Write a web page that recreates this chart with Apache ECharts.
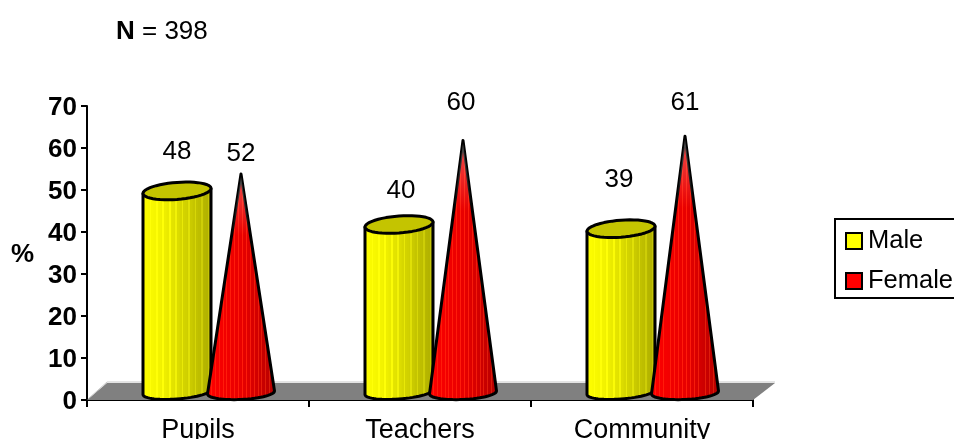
<!DOCTYPE html>
<html>
<head>
<meta charset="utf-8">
<style>html,body{margin:0;padding:0;background:#fff;overflow:hidden}#c{width:954px;height:439px}</style>
<script src="https://cdn.jsdelivr.net/npm/echarts@6/dist/echarts.min.js"></script>
</head>
<body>
<div id="c"></div>
<script>
const categories = ['Pupils', 'Teachers', 'Community'];
const yTicks = [0, 10, 20, 30, 40, 50, 60, 70];
const maleValues = [48, 40, 39];
const femaleValues = [52, 60, 61];
const sampleSize = 398;

// Hand-placed value labels: distance above the mark's value, and sideways nudge
const maleLabelGap = [47, 41, 56];
const femaleLabelGap = [28, 45, 41];
const maleLabelNudge = [0, 2, -2];
const femaleLabelNudge = [0, -2, 0];

const FONT = '"Liberation Sans", Arial, sans-serif';
const DEPTH_Y = -7.5;   // front-to-back shift of the marks on the floor

function lerp(a, b, t) { return a + (b - a) * t; }
function rgb(c) { return 'rgb(' + c.map(Math.round).join(',') + ')'; }

// Horizontal shading with fine vertical facets, as in faceted 3D solids
function facetGradient(stops, count, lift) {
  const colorStops = [];
  for (let i = 0; i < count; i++) {
    const t = i / count;
    let k = 0;
    while (k < stops.length - 2 && t > stops[k + 1][0]) k++;
    const f = (t - stops[k][0]) / (stops[k + 1][0] - stops[k][0]);
    const col = [0, 1, 2].map(j => lerp(stops[k][1][j], stops[k + 1][1][j], f));
    const facet = i % 4 === 1 ? lift : 0;
    const shown = rgb(col.map((v, j) => Math.min(255, v + facet * (j === 2 ? 0.35 : 1))));
    colorStops.push({ offset: t, color: shown }, { offset: (i + 1) / count, color: shown });
  }
  return { type: 'linear', x: 0, y: 0, x2: 1, y2: 0, colorStops };
}

// Points on a slightly sheared ellipse between two parameter angles
function arc(cx, cy, rx, ry, shear, from, to, steps) {
  const pts = [];
  for (let i = 0; i <= steps; i++) {
    const a = lerp(from, to, i / steps);
    pts.push([cx + rx * Math.cos(a), cy + ry * Math.sin(a) + shear * Math.cos(a)]);
  }
  return pts;
}

const outline = { stroke: '#000', lineWidth: 3, lineJoin: 'round' };
const maleFill = facetGradient([[0, [255, 255, 0]], [0.3, [240, 240, 0]], [0.65, [205, 205, 0]], [1, [170, 170, 0]]], 44, 20);
const femaleFill = facetGradient([[0, [255, 0, 0]], [0.5, [232, 0, 0]], [1, [180, 0, 0]]], 72, 28);

function valueLabel(x, y, text) {
  return { type: 'text', style: { x, y, text: String(text), fill: '#000', font: '26px ' + FONT, align: 'center', verticalAlign: 'middle' } };
}

function renderFloor(params) {
  const g = params.coordSys;
  const x0 = g.x, x1 = g.x + g.width, y0 = g.y + g.height;
  return {
    type: 'group',
    children: [
      { type: 'polygon', shape: { points: [[x0, y0], [x0 + 20, y0 - 17], [x1 + 22, y0 - 17], [x1, y0]] }, style: { fill: '#808080' } },
      { type: 'polyline', shape: { points: [[x0 + 1, y0 - 1], [x0 + 20, y0 - 18], [x1 + 22, y0 - 18]] }, style: { fill: 'none', stroke: '#c8c8c8', lineWidth: 1 } }
    ]
  };
}

function renderCylinder(params, api) {
  const i = api.value(0);
  const band = api.size([1, 0])[0];
  const top = api.coord([i, api.value(1)]);
  const base = api.coord([i, 0]);
  const cx = top[0] - band * 21 / 222;
  const rx = band * 34 / 222;
  const ry = 8.5, shear = -2.5;
  const yTop = top[1] + DEPTH_Y, yBase = base[1] + DEPTH_Y - 0.5;
  const body = [[cx - rx, yTop - shear]]
    .concat(arc(cx, yBase, rx, ry - 1.5, shear, Math.PI, 0, 30))
    .concat([[cx + rx, yTop + shear]]);
  return {
    type: 'group',
    children: [
      { type: 'polygon', shape: { points: body }, style: Object.assign({ fill: maleFill }, outline) },
      { type: 'polygon', shape: { points: arc(cx, yTop, rx, ry, shear, 0, Math.PI * 2, 48) }, style: Object.assign({ fill: '#c4c400' }, outline) },
      valueLabel(cx + maleLabelNudge[i], top[1] - maleLabelGap[i], api.value(1))
    ]
  };
}

function renderCone(params, api) {
  const i = api.value(0);
  const band = api.size([1, 0])[0];
  const top = api.coord([i, api.value(1)]);
  const base = api.coord([i, 0]);
  const cx = top[0] + band * 43 / 222;
  const rx = band * 33.5 / 222;
  const yApex = top[1] + DEPTH_Y, yBase = base[1] + DEPTH_Y;
  const h = yBase - yApex;
  const pts = [[cx, yApex]].concat(arc(cx, yBase, rx, 7, -1.5, 0, Math.PI, 30));
  return {
    type: 'group',
    children: [
      { type: 'polygon', shape: { points: pts }, style: Object.assign({ fill: femaleFill }, outline) },
      {
        type: 'polygon', shape: { points: [[cx, yApex + 3], [cx - rx * 0.28, yApex + h * 0.28], [cx + rx * 0.28, yApex + h * 0.28]] },
        style: { fill: { type: 'linear', x: 0, y: 0, x2: 0, y2: 1, colorStops: [{ offset: 0, color: 'rgba(255,255,255,0.3)' }, { offset: 1, color: 'rgba(255,255,255,0)' }] } }
      },
      valueLabel(cx + femaleLabelNudge[i], top[1] - femaleLabelGap[i], api.value(1))
    ]
  };
}

const chart = echarts.init(document.getElementById('c'), null, { renderer: 'canvas' });
chart.setOption({
  animation: false,
  backgroundColor: '#fff',
  title: {
    left: 116, top: 19, padding: 0,
    text: '{b|N} = ' + sampleSize,
    textStyle: {
      fontFamily: FONT, fontSize: 26, fontWeight: 'normal', color: '#000',
      rich: { b: { fontFamily: FONT, fontSize: 26, fontWeight: 'bold', color: '#000' } }
    }
  },
  grid: { left: 87, top: 106, width: 666, height: 294, containLabel: false, outerBoundsMode: 'none' },
  legend: {
    orient: 'vertical', left: 835, top: 219,
    data: ['Male', 'Female'],
    icon: 'rect', itemWidth: 16, itemHeight: 16, itemGap: 14,
    padding: [9, 30, 4, 10],
    borderColor: '#000', borderWidth: 2,
    itemStyle: { borderColor: '#000', borderWidth: 2 },
    textStyle: { fontFamily: FONT, fontSize: 25.5, color: '#000', padding: [0, 0, 0, 1] },
    selectedMode: false
  },
  xAxis: {
    type: 'category', data: categories,
    axisLine: { lineStyle: { color: '#000', width: 2 } },
    axisTick: { show: true, length: 7, lineStyle: { color: '#000', width: 2 } },
    axisLabel: { fontFamily: FONT, fontSize: 27, color: '#000', margin: 17 }
  },
  yAxis: {
    type: 'value', min: yTicks[0], max: yTicks[yTicks.length - 1], interval: yTicks[1] - yTicks[0],
    name: '%', nameLocation: 'middle', nameRotate: 0, nameGap: 53,
    nameTextStyle: { fontFamily: FONT, fontSize: 26, fontWeight: 'bold', color: '#000', verticalAlign: 'top', lineHeight: 3 },
    splitLine: { show: false },
    axisLine: { show: true, lineStyle: { color: '#000', width: 2 } },
    axisTick: { show: true, length: 6, lineStyle: { color: '#000', width: 2 } },
    axisLabel: { fontFamily: FONT, fontSize: 26, fontWeight: 'bold', color: '#000', margin: 10, verticalAlign: 'top', lineHeight: 3 }
  },
  series: [
    { type: 'custom', name: 'floor', z: 1, silent: true, clip: false, renderItem: renderFloor, data: [[0, 0]], encode: { x: 0, y: 1 } },
    { type: 'custom', name: 'Male', z: 3, silent: true, clip: false, renderItem: renderCylinder, itemStyle: { color: '#ffff00' },
      data: maleValues.map((v, i) => [i, v]), encode: { x: 0, y: 1 } },
    { type: 'custom', name: 'Female', z: 4, silent: true, clip: false, renderItem: renderCone, itemStyle: { color: '#ff0000' },
      data: femaleValues.map((v, i) => [i, v]), encode: { x: 0, y: 1 } }
  ]
});
</script>
</body>
</html>
